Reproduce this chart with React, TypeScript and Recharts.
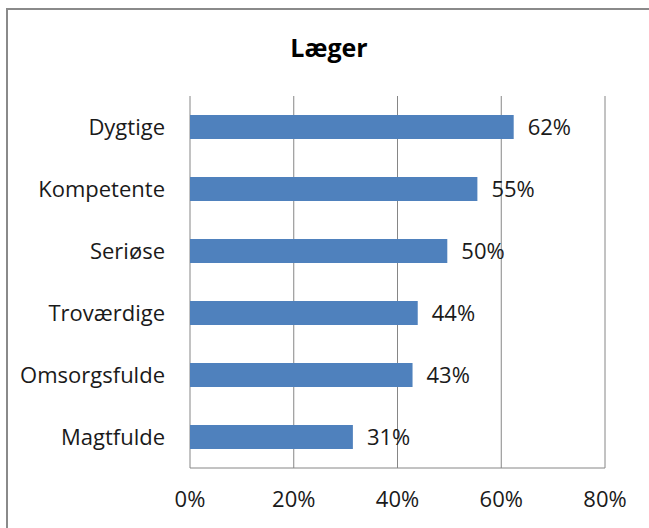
import React from 'react';
import { BarChart, Bar, XAxis, YAxis, CartesianGrid, LabelList } from 'recharts';

const categories = ['Dygtige', 'Kompetente', 'Seriøse', 'Troværdige', 'Omsorgsfulde', 'Magtfulde'];
const values = [0.624, 0.554, 0.496, 0.439, 0.429, 0.314];
const xTicks = [0, 0.2, 0.4, 0.6, 0.8];
const title = 'Læger';

const data = categories.map((c, i) => ({ name: c, value: values[i] }));
const pct = (v: number) => `${Math.round(v * 100)}%`;
const FONT = '"Open Sans", Lato, sans-serif';

export default function App() {
  return (
    <div style={{ position: 'absolute', left: 0, top: 0, width: 649, height: 528, overflow: 'hidden', background: '#fff', fontFamily: FONT }}>
      <style>{'html,body{overflow:hidden;margin:0;background:#fff}'}</style>
      <div style={{ position: 'absolute', left: 6, top: 8, width: 643, height: 2, background: '#8a8a8a' }} />
      <div style={{ position: 'absolute', left: 6, top: 8, width: 2, height: 520, background: '#8a8a8a' }} />
      <div style={{ position: 'absolute', left: 0, width: 658, top: 30, textAlign: 'center', fontWeight: 'bold', fontSize: 25, color: '#000', lineHeight: '34px' }}>{title}</div>
      <div style={{ position: 'absolute', left: 0, top: 0 }}>
        <BarChart width={649} height={528} data={data} layout="vertical" margin={{ top: 96, right: 44, bottom: 30, left: 10 }}>
          <CartesianGrid horizontal={false} vertical={true} stroke="#868686" strokeWidth={1} />
          <XAxis type="number" domain={[0, 0.8]} ticks={xTicks} tickFormatter={pct} height={30} axisLine={{ stroke: '#868686' }} tickLine={false} tickSize={0} tickMargin={23} tick={{ fill: '#1a1a1a', fontSize: 22, fontFamily: FONT }} interval={0} />
          <YAxis type="category" dataKey="name" width={180} axisLine={false} tickLine={false} tickSize={0} tickMargin={25} tick={{ fill: '#1a1a1a', fontSize: 22, fontFamily: FONT }} interval={0} />
          <Bar dataKey="value" fill="#4F81BD" barSize={24} isAnimationActive={false}>
            <LabelList dataKey="value" position="right" offset={14} formatter={(v: any) => pct(Number(v))} style={{ fill: '#1a1a1a', fontSize: 22, fontFamily: FONT }} />
          </Bar>
        </BarChart>
      </div>
    </div>
  );
}
